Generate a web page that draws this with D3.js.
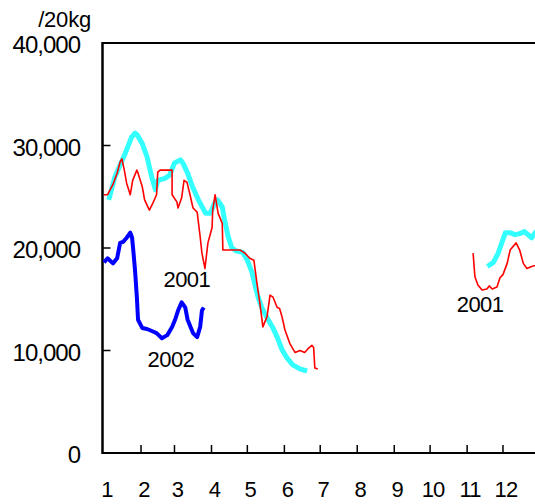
<!DOCTYPE html>
<html><head><meta charset="utf-8">
<script src="https://cdn.jsdelivr.net/npm/d3@7"></script>
<style>body{margin:0;background:#fff}svg{display:block}text{font-family:"Liberation Sans",Arial,sans-serif;fill:#000}</style>
</head><body>
<script>
// Month labels and starting day-of-year of each month
const months = ["1","2","3","4","5","6","7","8","9","10","11","12"];
const monthStart = [0,31,59,90,120,151,181,212,243,273,304,334];
const yTicks = [0,10000,20000,30000,40000];
const yUnit = "/20kg";

// Series: [dayOfYear, price per 20kg]
const cyanA = [[4,24700],[9,26900],[18,29300],[23,30800],[26,31200],[28,31000],[32,30200],[36,28900],[40,26900],[43,25700],[45,26600],[51,26800],[55,27100],[59,28300],[64,28600],[66,28300],[70,27300],[74,26000],[79,24700],[85,23400],[89,23400],[93,24500],[95,24700],[99,24000],[101,22700],[104,21100],[107,20000],[111,19700],[116,19600],[120,18800],[124,17600],[126,16600],[129,15200],[132,14200],[136,13300],[141,12300],[145,11300],[149,10100],[153,9300],[158,8600],[164,8200],[170,8000]];
const cyanB = [[321,18200],[326,18600],[330,19500],[333,20500],[336,21500],[340,21500],[344,21300],[348,21400],[352,21600],[355,21300],[358,21000],[361,21500],[365,22000]];
const redA = [[0,25200],[3,25200],[7.5,26200],[11,27300],[13.5,28400],[15,28700],[17,27600],[19,26300],[22,25200],[24,26600],[27.5,27600],[28.5,27300],[32,26000],[34,24700],[38,23700],[41,24400],[44,25200],[45,27400],[47,27600],[57,27600],[57,25200],[61,24500],[62,23900],[65,24900],[67,26600],[69.5,26400],[72,25200],[74.5,23900],[78,23500],[80.5,21100],[82,19500],[84.5,18000],[87,20500],[90.5,22000],[91,23700],[93,25200],[95.5,23400],[99,22400],[99.5,19800],[114,19800],[118,19500],[122,19000],[125.5,18800],[128,16600],[130.5,14600],[133,12300],[136.5,13300],[139,15400],[141.5,15200],[145,14200],[147,14100],[149,13300],[151.5,12000],[155.5,10700],[160,9800],[164,10000],[168,9800],[171,10200],[174,10500],[175.5,10300],[176.5,8300],[179,8200]];
const redB = [[309,19500],[310.5,17200],[313,16400],[316.5,15900],[320.5,16000],[322.5,16300],[325,16000],[329,16200],[331.5,17100],[334,17400],[337.5,18500],[340,19800],[345,20500],[348,19800],[351,18500],[354,18000],[358,18200],[361,18300],[365,18600]];
const blue = [[0,18600],[3,19000],[7.5,18500],[11,19000],[13.5,20500],[16,20600],[19,21000],[22,21500],[23.5,21000],[24.5,19800],[26,17800],[27.5,15200],[28.5,13000],[32,12200],[36,12100],[40,11900],[44,11700],[48.5,11200],[53,11500],[57,12300],[59.5,13000],[62,13900],[65,14700],[68,14200],[70,13000],[74.5,11700],[78,11300],[80.5,12300],[82,13900],[83.5,14200]];
const labels = [{t:"2001",d:69.3,v:16200},{t:"2002",d:56,v:8400},{t:"2001",d:314.8,v:13750}];

const W=535,H=504;
const svg=d3.select("body").append("svg").attr("width",W).attr("height",H);
const x=d3.scaleLinear().domain([0,365]).range([104,540]);
const y=d3.scaleLinear().domain([0,40000]).range([453,43]);
const fmt=d3.format(",");

// frame
const axX=102.5;
svg.append("line").attr("x1",axX).attr("x2",W).attr("y1",y(40000)).attr("y2",y(40000)).attr("stroke","#000").attr("stroke-width",2);
svg.append("line").attr("x1",axX).attr("x2",axX).attr("y1",y(40000)-1).attr("y2",y(0)+1).attr("stroke","#000").attr("stroke-width",2.5);
svg.append("line").attr("x1",axX).attr("x2",W).attr("y1",y(0)).attr("y2",y(0)).attr("stroke","#000").attr("stroke-width",2);

// y ticks & labels
yTicks.forEach(v=>{
  if(v>0&&v<40000) svg.append("line").attr("x1",axX).attr("x2",axX+8).attr("y1",y(v)).attr("y2",y(v)).attr("stroke","#000").attr("stroke-width",1.5);
  svg.append("text").attr("x",80).attr("y",y(v)+10).attr("text-anchor","end").attr("font-size",24).attr("letter-spacing",-1).text(fmt(v));
});
svg.append("text").attr("x",91).attr("y",27).attr("text-anchor","end").attr("font-size",22).attr("letter-spacing",-0.2).text(yUnit);

// x ticks & labels
monthStart.forEach((d,i)=>{
  if(i>0) svg.append("line").attr("x1",x(d)).attr("x2",x(d)).attr("y1",y(0)).attr("y2",y(0)-8).attr("stroke","#000").attr("stroke-width",1.5);
  svg.append("text").attr("x",x(d)+3).attr("y",497).attr("text-anchor","middle").attr("font-size",22).attr("letter-spacing",-0.8).text(months[i]);
});

const line=d3.line().x(d=>x(d[0])).y(d=>y(d[1]));
const draw=(data,color,w)=>svg.append("path").datum(data).attr("d",line).attr("fill","none").attr("stroke",color).attr("stroke-width",w).attr("stroke-linejoin","round");
draw(cyanA,"#33ffff",5);
draw(cyanB,"#33ffff",5);
draw(redA,"#ff0000",1.6);
draw(redB,"#ff0000",1.6);
draw(blue,"#0000ff",4);

labels.forEach(l=>svg.append("text").attr("x",x(l.d)).attr("y",y(l.v)).attr("text-anchor","middle").attr("font-size",22).attr("letter-spacing",-0.6).text(l.t));
</script>
</body></html>
